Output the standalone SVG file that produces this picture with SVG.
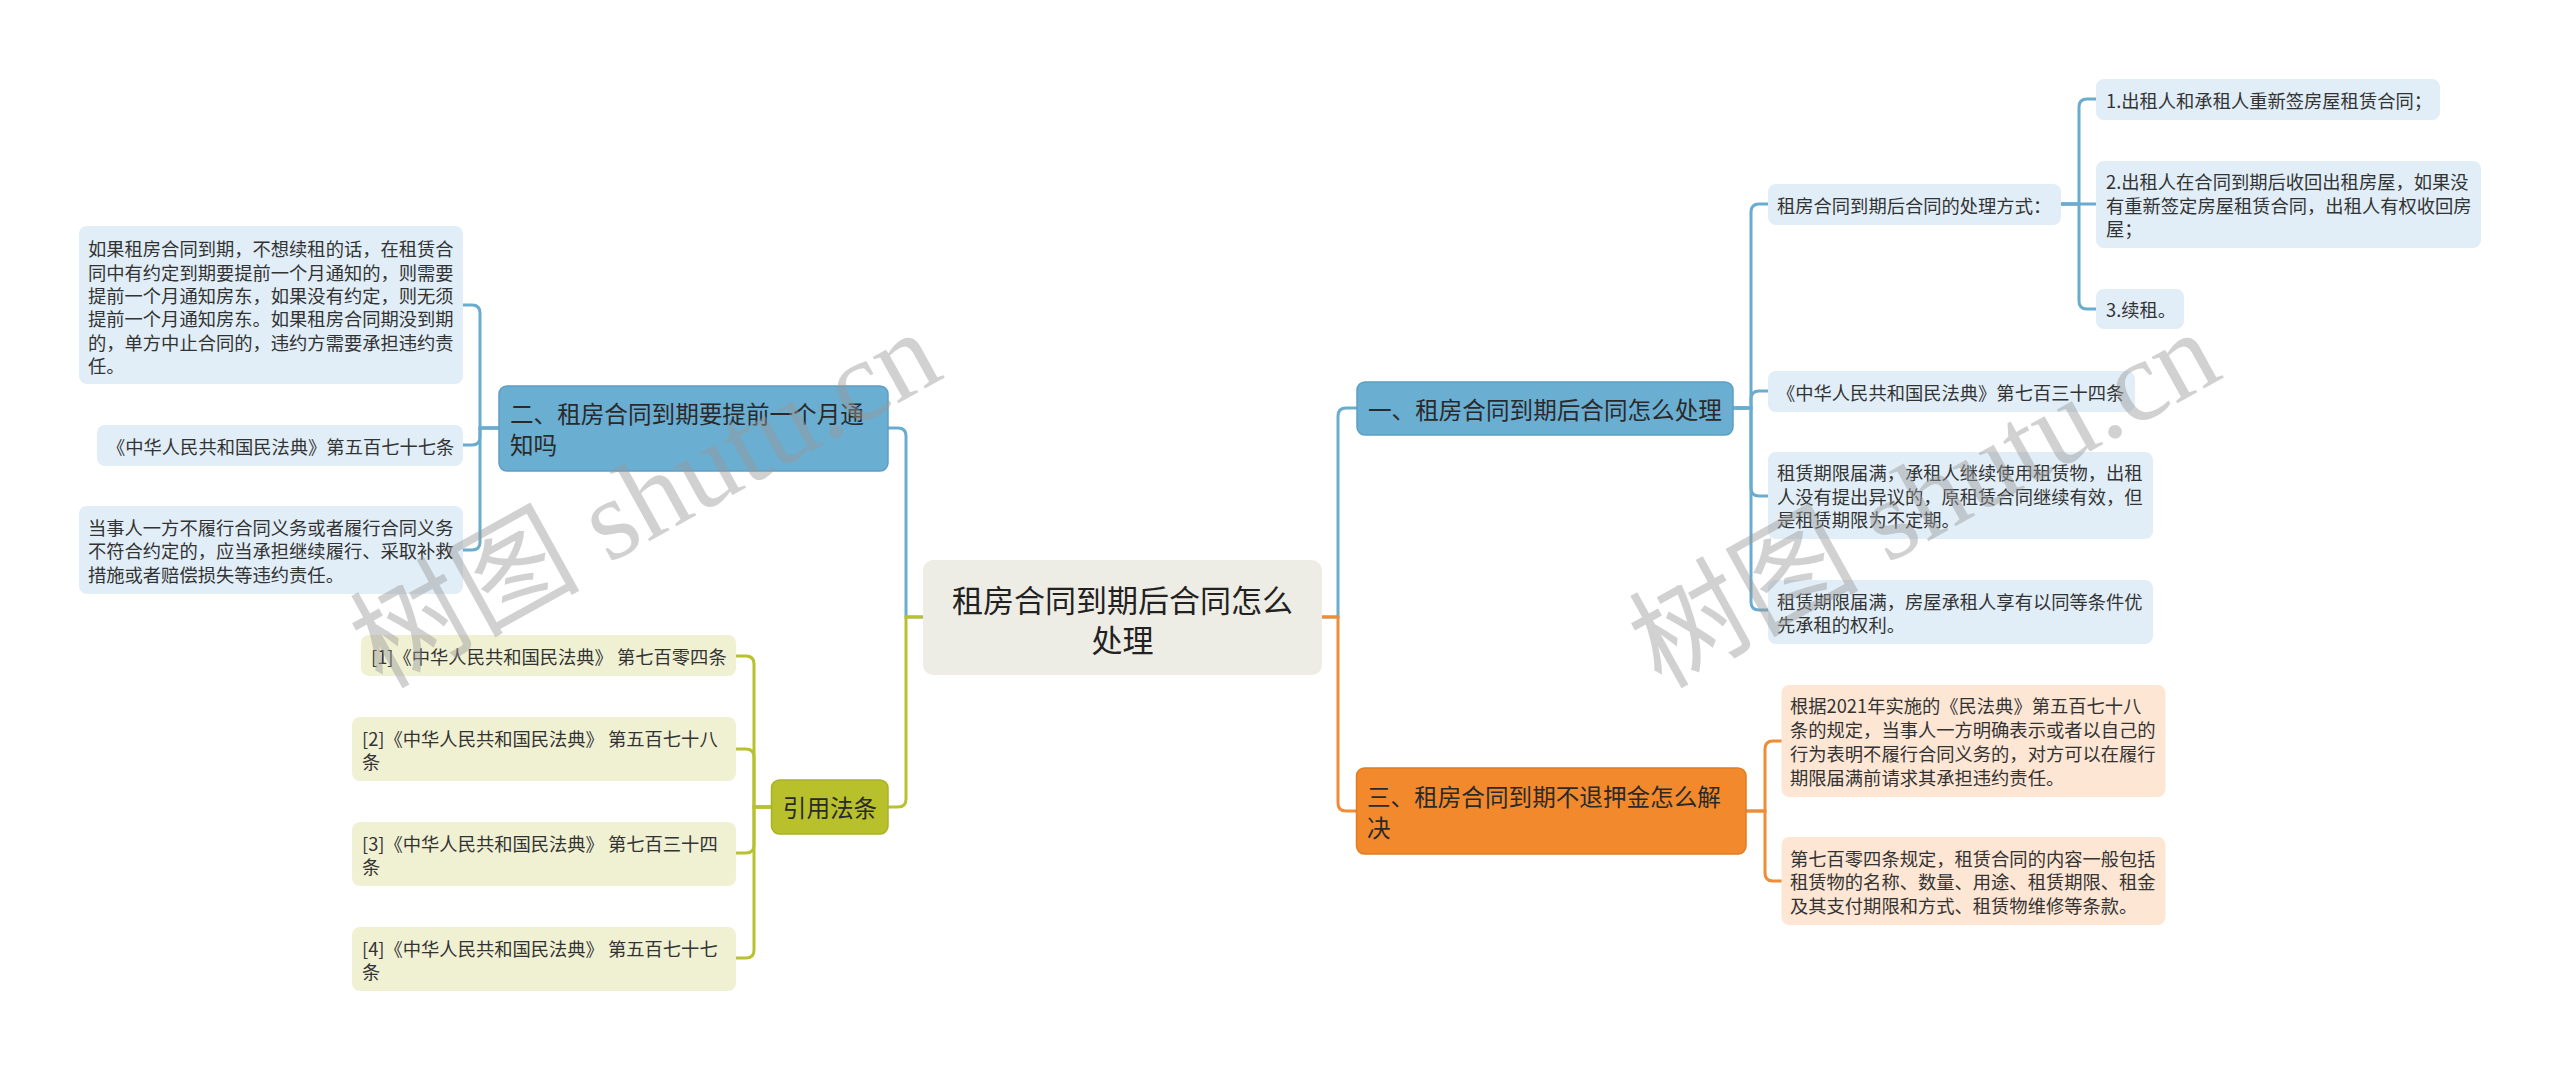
<svg xmlns="http://www.w3.org/2000/svg" width="2560" height="1070" viewBox="0 0 2560 1070">
<style>
text{font-family:"Noto Sans CJK SC","Liberation Sans",sans-serif;dominant-baseline:central}
.leaf{font-size:18.3px;fill:#333}
.main{font-size:23.6px;fill:#2a2a2a}
.root{font-size:31px;fill:#222;text-anchor:middle}
.bl{fill:#e1eef7}
.bn{fill:#6aaed2;stroke:#5d9fc3;stroke-width:1.5}
.ol{fill:#f0f1d3}
.on{fill:#b8c12b;stroke:#a9b226;stroke-width:1.5}
.pl{fill:#fde6d4}
.orn{fill:#f28a2d;stroke:#e07c22;stroke-width:1.5}
.rt{fill:#eeede5}
.c{fill:none;stroke-width:3}
.cb{stroke:#6aaccd}
.co{stroke:#b9c22e}
.cr{stroke:#ee8c38}
.wm{font-family:"Liberation Serif","Noto Sans CJK SC",serif;font-size:115px;fill:#9a9a9a;fill-opacity:0.45;text-anchor:middle;dominant-baseline:auto}
</style>
<g id="connectors">
<path class="c cb" d="M923,617 H906 V436 Q906,428 898,428 H888"/>
<path class="c co" d="M923,617 H906 V799 Q906,807 898,807 H888"/>
<path class="c cb" d="M1322,617 H1338 V416 Q1338,408 1346,408 H1357"/>
<path class="c cr" d="M1322,617 H1338 V803 Q1338,811 1346,811 H1357"/>
<path class="c cb" d="M499,428 H480 V313 Q480,305 472,305 H463"/>
<path class="c cb" d="M499,428 H480 V437 Q480,445 472,445 H463"/>
<path class="c cb" d="M499,428 H480 V542 Q480,550 472,550 H463"/>
<path class="c co" d="M771,807 H754 V664 Q754,656 746,656 H736"/>
<path class="c co" d="M771,807 H754 V757 Q754,749 746,749 H736"/>
<path class="c co" d="M771,807 H754 V845 Q754,853 746,853 H736"/>
<path class="c co" d="M771,807 H754 V950 Q754,958 746,958 H736"/>
<path class="c cb" d="M1733,408 H1751 V212 Q1751,204 1759,204 H1768"/>
<path class="c cb" d="M1733,408 H1751 V399 Q1751,391 1759,391 H1768"/>
<path class="c cb" d="M1733,408 H1751 V488 Q1751,496 1759,496 H1768"/>
<path class="c cb" d="M1733,408 H1751 V602 Q1751,610 1759,610 H1768"/>
<path class="c cb" d="M2061,204 H2079 V107 Q2079,99 2087,99 H2096"/>
<path class="c cb" d="M2061,204 H2096"/>
<path class="c cb" d="M2061,204 H2079 V301 Q2079,309 2087,309 H2096"/>
<path class="c cr" d="M1746,811 H1765 V749 Q1765,741 1773,741 H1782"/>
<path class="c cr" d="M1746,811 H1765 V873 Q1765,881 1773,881 H1782"/>
</g>
<g id="root">
<rect class="rt" x="923" y="560" width="399" height="115" rx="10"/>
<text class="root" x="1122.5" y="598">租房合同到期后合同怎么</text>
<text class="root" x="1122.5" y="638">处理</text>
</g>
<g id="n2">
<rect class="bn" x="499" y="386" width="389" height="85" rx="8"/>
<text class="main" x="510" y="413">二、租房合同到期要提前一个月通</text>
<text class="main" x="510" y="444">知吗</text>
</g>
<g id="n2a">
<rect class="bl" x="79" y="226" width="384" height="158" rx="8"/>
<text class="leaf" x="88" y="248.3">如果租房合同到期，不想续租的话，在租赁合</text>
<text class="leaf" x="88" y="271.7">同中有约定到期要提前一个月通知的，则需要</text>
<text class="leaf" x="88" y="295">提前一个月通知房东，如果没有约定，则无须</text>
<text class="leaf" x="88" y="318.3">提前一个月通知房东。如果租房合同期没到期</text>
<text class="leaf" x="88" y="341.7">的，单方中止合同的，违约方需要承担违约责</text>
<text class="leaf" x="88" y="365">任。</text>
</g>
<g id="n2b">
<rect class="bl" x="97" y="425" width="366" height="41" rx="8"/>
<text class="leaf" x="107" y="445.5">《中华人民共和国民法典》第五百七十七条</text>
</g>
<g id="n2c">
<rect class="bl" x="79" y="506" width="384" height="88" rx="8"/>
<text class="leaf" x="88" y="527">当事人一方不履行合同义务或者履行合同义务</text>
<text class="leaf" x="88" y="550.3">不符合约定的，应当承担继续履行、采取补救</text>
<text class="leaf" x="88" y="573.7">措施或者赔偿损失等违约责任。</text>
</g>
<g id="nref">
<rect class="on" x="771.5" y="780" width="116.5" height="54" rx="8"/>
<text class="main" x="830" y="807" text-anchor="middle">引用法条</text>
</g>
<g id="ref1">
<rect class="ol" x="361" y="635" width="375" height="41" rx="8"/>
<text class="leaf" x="371" y="656">[1]《中华人民共和国民法典》 第七百零四条</text>
</g>
<g id="ref2">
<rect class="ol" x="352" y="717" width="384" height="64" rx="8"/>
<text class="leaf" x="362" y="737.5">[2]《中华人民共和国民法典》 第五百七十八</text>
<text class="leaf" x="362" y="760.8">条</text>
</g>
<g id="ref3">
<rect class="ol" x="352" y="822" width="384" height="64" rx="8"/>
<text class="leaf" x="362" y="842.5">[3]《中华人民共和国民法典》 第七百三十四</text>
<text class="leaf" x="362" y="865.8">条</text>
</g>
<g id="ref4">
<rect class="ol" x="352" y="927" width="384" height="64" rx="8"/>
<text class="leaf" x="362" y="947.5">[4]《中华人民共和国民法典》 第五百七十七</text>
<text class="leaf" x="362" y="970.8">条</text>
</g>
<g id="n1">
<rect class="bn" x="1357" y="382" width="376" height="53" rx="8"/>
<text class="main" x="1368" y="408.5">一、租房合同到期后合同怎么处理</text>
</g>
<g id="n1a">
<rect class="bl" x="1768" y="184" width="293" height="41" rx="8"/>
<text class="leaf" x="1777" y="204.5">租房合同到期后合同的处理方式：</text>
</g>
<g id="n1a1">
<rect class="bl" x="2096" y="79" width="344" height="41" rx="8"/>
<text class="leaf" x="2106" y="99.5">1.出租人和承租人重新签房屋租赁合同；</text>
</g>
<g id="n1a2">
<rect class="bl" x="2096" y="161" width="385" height="87" rx="8"/>
<text class="leaf" x="2106" y="181.2">2.出租人在合同到期后收回出租房屋，如果没</text>
<text class="leaf" x="2106" y="204.5">有重新签定房屋租赁合同，出租人有权收回房</text>
<text class="leaf" x="2106" y="227.8">屋；</text>
</g>
<g id="n1a3">
<rect class="bl" x="2096" y="289" width="88" height="40" rx="8"/>
<text class="leaf" x="2106" y="309">3.续租。</text>
</g>
<g id="n1b">
<rect class="bl" x="1768" y="371" width="367" height="41" rx="8"/>
<text class="leaf" x="1777" y="391.5">《中华人民共和国民法典》第七百三十四条</text>
</g>
<g id="n1c">
<rect class="bl" x="1768" y="452" width="385" height="87" rx="8"/>
<text class="leaf" x="1777" y="472.2">租赁期限届满，承租人继续使用租赁物，出租</text>
<text class="leaf" x="1777" y="495.5">人没有提出异议的，原租赁合同继续有效，但</text>
<text class="leaf" x="1777" y="518.8">是租赁期限为不定期。</text>
</g>
<g id="n1d">
<rect class="bl" x="1768" y="580" width="385" height="64" rx="8"/>
<text class="leaf" x="1777" y="600.5">租赁期限届满，房屋承租人享有以同等条件优</text>
<text class="leaf" x="1777" y="623.8">先承租的权利。</text>
</g>
<g id="n3">
<rect class="orn" x="1356.5" y="768" width="389.5" height="86" rx="8"/>
<text class="main" x="1367" y="795.5">三、租房合同到期不退押金怎么解</text>
<text class="main" x="1367" y="826.5">决</text>
</g>
<g id="n3a">
<rect class="pl" x="1781.5" y="685" width="384" height="112" rx="8"/>
<text class="leaf" x="1790" y="705">根据2021年实施的《民法典》第五百七十八</text>
<text class="leaf" x="1790" y="729">条的规定，当事人一方明确表示或者以自己的</text>
<text class="leaf" x="1790" y="753">行为表明不履行合同义务的，对方可以在履行</text>
<text class="leaf" x="1790" y="777">期限届满前请求其承担违约责任。</text>
</g>
<g id="n3b">
<rect class="pl" x="1781.5" y="837" width="384" height="88" rx="8"/>
<text class="leaf" x="1790" y="857.5">第七百零四条规定，租赁合同的内容一般包括</text>
<text class="leaf" x="1790" y="881">租赁物的名称、数量、用途、租赁期限、租金</text>
<text class="leaf" x="1790" y="904.5">及其支付期限和方式、租赁物维修等条款。</text>
</g>
<g id="watermarks">
<text class="wm" x="664" y="533" transform="rotate(-29 664 533)">树图 shutu.cn</text>
<text class="wm" x="1943" y="533" transform="rotate(-29 1943 533)">树图 shutu.cn</text>
</g>
</svg>
